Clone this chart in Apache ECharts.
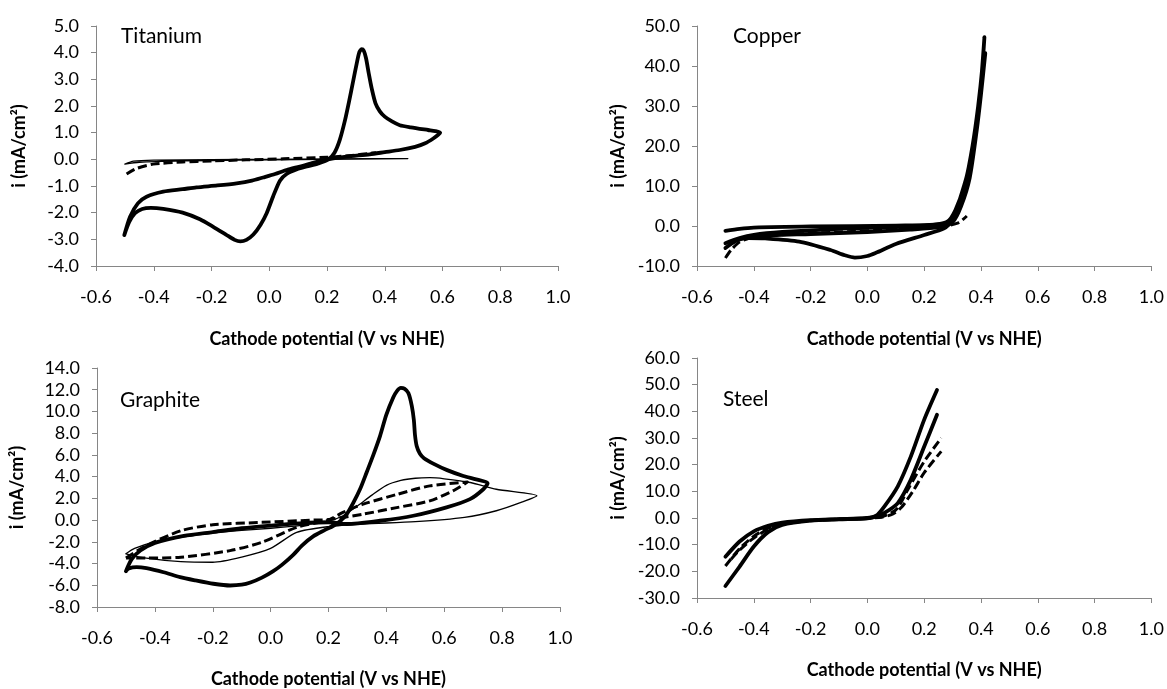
<!DOCTYPE html>
<html><head><meta charset="utf-8">
<script src="https://cdn.jsdelivr.net/npm/echarts@6/dist/echarts.min.js"></script>
<style>html,body{margin:0;padding:0;background:#fff}#c{width:1167px;height:689px}</style>
</head><body><div id="c"></div>
<script>
// ---- panel labels and axis titles ----
const panelNames = ['Titanium', 'Copper', 'Graphite', 'Steel'];
const xTitle = 'Cathode potential (V vs NHE)';
const yTitle = 'i (mA/cm²)';
// x axis: min, max, step (same for all panels)
const xScale = [-0.6, 1.0, 0.2];
// y axes: min, max, step per panel
const yTi = [-4, 5, 1];
const yCu = [-10, 50, 10];
const yGr = [-8, 14, 2];
const ySt = [-30, 60, 10];

// ---- Titanium (x: V vs NHE, y: mA/cm2) ----
const tiThick = [[-0.502,-2.84],[-0.482,-2.15],[-0.455,-1.65],[-0.425,-1.40],[-0.367,-1.21],[-0.3,-1.12],[-0.252,-1.05],[-0.18,-0.98],[-0.113,-0.90],[-0.06,-0.80],[-0.021,-0.68],[0.02,-0.55],[0.06,-0.40],[0.11,-0.26],[0.152,-0.13],[0.204,0.0],[0.267,0.10],[0.348,0.19],[0.40,0.27],[0.452,0.35],[0.505,0.47],[0.54,0.6],[0.568,0.78],[0.585,0.92],[0.592,1.0],[0.575,1.06],[0.55,1.1],[0.49,1.2],[0.452,1.28],[0.425,1.42],[0.400,1.6],[0.383,1.8],[0.368,2.1],[0.355,2.65],[0.345,3.2],[0.335,3.8],[0.327,4.08],[0.32,4.13],[0.312,4.02],[0.303,3.6],[0.29,2.9],[0.277,2.2],[0.262,1.45],[0.244,0.72],[0.226,0.25],[0.205,0.0],[0.17,-0.15],[0.13,-0.27],[0.094,-0.38],[0.06,-0.55],[0.037,-0.8],[0.013,-1.40],[-0.009,-2.02],[-0.03,-2.45],[-0.055,-2.82],[-0.079,-3.02],[-0.1,-3.08],[-0.12,-3.02],[-0.15,-2.82],[-0.194,-2.53],[-0.24,-2.25],[-0.3,-2.0],[-0.367,-1.86],[-0.41,-1.82],[-0.44,-1.86],[-0.465,-2.02],[-0.485,-2.35],[-0.502,-2.84]];
const tiThin = [[-0.5,-0.18],[-0.47,-0.07],[-0.4,-0.03],[-0.2,-0.01],[0,0],[0.2,0.02],[0.48,0.03],[0.3,0.01],[0.1,-0.01],[-0.1,-0.03],[-0.3,-0.06],[-0.45,-0.11],[-0.5,-0.18]];
const tiDash = [[-0.494,-0.55],[-0.459,-0.34],[-0.402,-0.18],[-0.3,-0.1],[-0.2,-0.06],[-0.08,-0.02],[0.05,0.02],[0.2,0.08],[0.3,0.16],[0.348,0.22],[0.37,0.25]];

// ---- Copper ----
const cuThickA = [[-0.5,-4.3],[-0.47,-3.5],[-0.42,-3.0],[-0.36,-3.1],[-0.24,-3.9],[-0.13,-6.0],[-0.08,-7.3],[-0.044,-7.9],[0.0,-7.5],[0.03,-6.7],[0.1,-4.5],[0.2,-2.25],[0.27,-0.6],[0.3,1.5],[0.32,5.5],[0.35,12.5],[0.375,22],[0.398,34.5],[0.412,47.2],[0.405,40],[0.39,30],[0.37,20],[0.345,11],[0.31,4],[0.28,1],[0.22,0.2],[0.1,-0.3],[-0.1,-0.7],[-0.3,-1.5],[-0.4,-2.2],[-0.45,-3.0],[-0.5,-4.3]];
const cuThickB = [[-0.5,-5.5],[-0.46,-3.6],[-0.4,-2.6],[-0.2,-2.0],[0,-1.5],[0.15,-0.9],[0.25,-0.3],[0.3,1.0],[0.33,5.0],[0.36,12],[0.385,24],[0.40,33],[0.415,43.2],[0.39,27],[0.365,16],[0.34,8],[0.31,2.5],[0.27,0.5],[0.1,0.1],[-0.2,-0.1],[-0.4,-0.4],[-0.45,-0.7],[-0.5,-1.2]];
const cuDash = [[-0.5,-8.0],[-0.48,-6.0],[-0.45,-4.0],[-0.4,-2.8],[-0.3,-2.2],[-0.1,-1.5],[0.1,-0.9],[0.25,-0.3],[0.32,0.8],[0.35,2.5]];

// ---- Graphite ----
const grThick = [[-0.5,-4.7],[-0.48,-3.6],[-0.45,-2.8],[-0.4,-2.1],[-0.3,-1.45],[-0.2,-1.1],[-0.1,-0.75],[0,-0.5],[0.1,-0.3],[0.2,-0.2],[0.263,-0.36],[0.378,-0.06],[0.493,0.4],[0.608,1.17],[0.689,1.93],[0.735,2.84],[0.75,3.4],[0.71,3.75],[0.666,4.06],[0.61,4.6],[0.562,5.2],[0.53,5.7],[0.516,6.1],[0.505,6.8],[0.499,7.8],[0.495,9.2],[0.488,10.5],[0.476,11.7],[0.462,12.1],[0.45,12.17],[0.437,11.9],[0.424,11.3],[0.4,9.7],[0.378,7.73],[0.355,6.0],[0.332,4.4],[0.31,2.9],[0.286,1.6],[0.262,0.5],[0.24,-0.1],[0.217,-0.52],[0.185,-0.95],[0.147,-1.5],[0.11,-2.3],[0.078,-3.2],[0.04,-4.1],[0.009,-4.7],[-0.03,-5.3],[-0.07,-5.75],[-0.1,-5.95],[-0.14,-6.02],[-0.198,-5.86],[-0.26,-5.55],[-0.313,-5.25],[-0.37,-4.8],[-0.429,-4.43],[-0.463,-4.33],[-0.49,-4.45],[-0.5,-4.7]];
const grThin = [[-0.5,-3.1],[-0.47,-2.6],[-0.4,-2.0],[-0.3,-1.55],[-0.2,-1.2],[-0.1,-0.95],[0.0,-0.75],[0.1,-0.5],[0.2,-0.1],[0.25,0.4],[0.3,1.3],[0.35,2.3],[0.4,3.2],[0.45,3.65],[0.5,3.85],[0.55,3.9],[0.6,3.8],[0.69,3.46],[0.78,2.84],[0.92,2.25],[0.87,1.68],[0.78,0.86],[0.67,0.25],[0.5,-0.15],[0.32,-0.36],[0.2,-0.6],[0.09,-1.13],[0.0,-2.6],[-0.1,-3.4],[-0.2,-3.88],[-0.31,-3.82],[-0.43,-3.5],[-0.5,-3.1]];
const grDash = [[-0.5,-3.5],[-0.43,-2.35],[-0.31,-0.98],[-0.2,-0.43],[-0.03,-0.21],[0.15,0.0],[0.2,0.05],[0.32,0.55],[0.44,1.17],[0.55,1.77],[0.63,2.69],[0.68,3.5],[0.55,3.15],[0.44,2.39],[0.32,1.47],[0.25,0.7],[0.2,0.0],[0.09,-0.67],[-0.03,-2.04],[-0.14,-2.81],[-0.31,-3.42],[-0.43,-3.5],[-0.5,-3.5]];

// ---- Steel ----
const stThickA = [[-0.5,-25.5],[-0.45,-18.2],[-0.4,-10.7],[-0.35,-5.3],[-0.3,-2.6],[-0.2,-1.0],[-0.1,-0.5],[0.0,-0.1],[0.03,0.8],[0.06,4.4],[0.107,11.9],[0.153,23.1],[0.2,36.9],[0.245,48.0]];
const stThickB = [[-0.5,-14.5],[-0.45,-8.8],[-0.4,-5.0],[-0.35,-2.9],[-0.3,-1.7],[-0.2,-0.8],[-0.1,-0.4],[0.0,0],[0.03,0.6],[0.06,1.9],[0.107,5.6],[0.153,14.4],[0.2,26.8],[0.245,38.7]];
const stDashA = [[-0.5,-18],[-0.45,-11.5],[-0.4,-6.8],[-0.35,-3.8],[-0.3,-2.1],[-0.2,-0.9],[-0.1,-0.4],[0,0],[0.05,0.5],[0.084,1.9],[0.107,3.8],[0.142,10.6],[0.2,21.2],[0.26,30]];
const stDashB = [[-0.48,-15.5],[-0.45,-12],[-0.4,-7.5],[-0.35,-4.2],[-0.3,-2.3],[-0.2,-1.0],[-0.1,-0.5],[0,-0.1],[0.05,0.3],[0.09,1.5],[0.12,4],[0.16,10],[0.2,17],[0.26,25]];

// ---- layout ----
const FONT = 'Lato';
const AXIS_COLOR = '#868686';
const grids = [
  {left: 96, top: 26, width: 462, height: 240},
  {left: 697, top: 26, width: 459, height: 240},
  {left: 97, top: 368, width: 463, height: 240},
  {left: 697, top: 358, width: 459, height: 240}
];
const yRanges = [yTi, yCu, yGr, ySt];
const yNameGaps = [68, 70, 71, 70];
const xNameGaps = [64, 64, 63, 63];
const labelPos = [[121, 36], [733, 36], [120, 400], [723, 399]];

const fmt = v => (Math.abs(v) < 1e-9 ? 0 : v).toFixed(1);

const xAxes = grids.map((g, i) => ({
  type: 'value', gridIndex: i, min: xScale[0], max: xScale[1], interval: xScale[2],
  position: 'bottom',
  axisLine: {onZero: false, lineStyle: {color: AXIS_COLOR, width: 1}},
  axisTick: {show: true, length: 5, lineStyle: {color: AXIS_COLOR}},
  splitLine: {show: false},
  axisLabel: {formatter: fmt, color: '#000', fontFamily: FONT, fontSize: 18, margin: 22},
  name: xTitle, nameLocation: 'middle', nameGap: xNameGaps[i],
  nameTextStyle: {color: '#000', fontFamily: FONT, fontSize: 18, fontWeight: 'bold'}
}));
const yAxes = grids.map((g, i) => ({
  type: 'value', gridIndex: i, min: yRanges[i][0], max: yRanges[i][1], interval: yRanges[i][2],
  axisLine: {show: true, onZero: false, lineStyle: {color: AXIS_COLOR, width: 1}},
  axisTick: {show: true, length: 5, lineStyle: {color: AXIS_COLOR}},
  splitLine: {show: false},
  axisLabel: {formatter: fmt, color: '#000', fontFamily: FONT, fontSize: 18, margin: 17},
  name: yTitle, nameLocation: 'middle', nameGap: yNameGaps[i], nameRotate: 90,
  nameTextStyle: {color: '#000', fontFamily: FONT, fontSize: 18, fontWeight: 'bold'}
}));

const THICK = {color: '#000', width: 3.8, type: 'solid', cap: 'round', join: 'round'};
const THIN = {color: '#000', width: 1.3, type: 'solid', cap: 'round', join: 'round'};
const DASH = {color: '#000', width: 3, type: [9, 4], cap: 'butt', join: 'round'};

function mk(data, gi, style) {
  return {
    type: 'line', data: data, xAxisIndex: gi, yAxisIndex: gi,
    showSymbol: false, symbol: 'none', smooth: 0.25, animation: false,
    lineStyle: style, silent: true
  };
}
const series = [
  mk(tiThin, 0, THIN), mk(tiDash, 0, DASH), mk(tiThick, 0, THICK),
  mk(cuDash, 1, DASH), mk(cuThickB, 1, THICK), mk(cuThickA, 1, THICK),
  mk(grThin, 2, THIN), mk(grDash, 2, DASH), mk(grThick, 2, THICK),
  mk(stDashA, 3, DASH), mk(stDashB, 3, DASH), mk(stThickB, 3, THICK), mk(stThickA, 3, THICK)
];

const graphic = panelNames.map((t, i) => ({
  type: 'text', x: labelPos[i][0], y: labelPos[i][1],
  style: {text: t, fill: '#000', font: '21px ' + FONT, textVerticalAlign: 'middle'}
}));

const chart = echarts.init(document.getElementById('c'), null, {renderer: 'canvas'});
chart.setOption({
  animation: false,
  backgroundColor: '#fff',
  grid: grids,
  xAxis: xAxes,
  yAxis: yAxes,
  series: series,
  graphic: graphic
});
</script>
</body></html>
